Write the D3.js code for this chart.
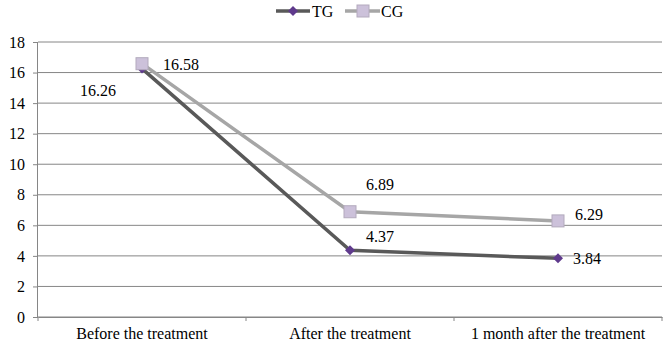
<!DOCTYPE html>
<html><head><meta charset="utf-8">
<script src="https://cdn.jsdelivr.net/npm/d3@7"></script>
<style>body{margin:0;background:#fff}svg{display:block}
svg text{font-family:"Liberation Serif","Times New Roman","DejaVu Serif",serif;font-size:16px;fill:#000}</style>
</head><body>
<svg id="c" width="667" height="355"></svg>
<script>
const categories = ["Before the treatment","After the treatment","1 month after the treatment"];
const seriesNames = ["TG","CG"];
const tgValues = [16.26, 4.37, 3.84];
const cgValues = [16.58, 6.89, 6.29];
const yTicks = [0,2,4,6,8,10,12,14,16,18];

const svg = d3.select("#c");
const mLeft = 38, mRight = 662, mTop = 42, mBottom = 317;
const x = d3.scaleBand().domain(categories).range([mLeft, mRight]);
const y = d3.scaleLinear().domain([0,18]).range([mBottom, mTop]);
const gridColor = "#868686";

// gridlines
svg.append("g").selectAll("line").data(yTicks).join("line")
  .attr("x1", mLeft).attr("x2", mRight)
  .attr("y1", d => y(d)).attr("y2", d => y(d))
  .attr("stroke", gridColor).attr("stroke-width", 1);

// y axis
const ya = svg.append("g").attr("transform", `translate(${mLeft},0)`)
  .call(d3.axisLeft(y).tickValues(yTicks).tickSize(5).tickPadding(8));
ya.attr("font-family", null).attr("font-size", null);
ya.select(".domain").attr("stroke", gridColor).attr("d", `M-0.5,${mTop}V${mBottom}`);
ya.selectAll(".tick line").attr("stroke", gridColor);

// x axis
const xa = svg.append("g").attr("transform", `translate(0,${mBottom})`)
  .call(d3.axisBottom(x).tickSize(0).tickPadding(11));
xa.attr("font-family", null).attr("font-size", null);
xa.select(".domain").attr("stroke", gridColor);
// band boundary ticks
const bounds = [mLeft].concat(categories.map(c => x(c) + x.bandwidth()));
svg.append("g").selectAll("line").data(bounds).join("line")
  .attr("x1", d => d).attr("x2", d => d)
  .attr("y1", mBottom).attr("y2", mBottom + 4)
  .attr("stroke", gridColor);

const cx = c => x(c) + x.bandwidth()/2;
const line = d3.line().x((d,i) => cx(categories[i])).y(d => y(d));

// CG
svg.append("path").datum(cgValues).attr("d", line)
  .attr("fill","none").attr("stroke","#a6a6a6").attr("stroke-width",3.5);
// TG
svg.append("path").datum(tgValues).attr("d", line)
  .attr("fill","none").attr("stroke","#595959").attr("stroke-width",3.5);

svg.append("g").selectAll("path").data(tgValues).join("path")
  .attr("d", d3.symbol().type(d3.symbolSquare).size(50))
  .attr("transform", (d,i) => `translate(${cx(categories[i])},${y(d)}) rotate(45)`)
  .attr("fill","#5f3a8c");
svg.append("g").selectAll("rect").data(cgValues).join("rect")
  .attr("x", (d,i) => cx(categories[i]) - 6).attr("y", d => y(d) - 6)
  .attr("width", 12).attr("height", 12)
  .attr("fill","#ccc1da").attr("stroke","#b3aabd").attr("stroke-width",1);

// labels
const tgOff = [[-62, 27],[16, -8],[15, 6]];
const cgOff = [[21, 6],[16, -22],[17, -1]];
svg.append("g").selectAll("text").data(tgValues).join("text")
  .attr("x", (d,i) => cx(categories[i]) + tgOff[i][0])
  .attr("y", (d,i) => y(d) + tgOff[i][1])
  .text(d => d.toFixed(2));
svg.append("g").selectAll("text").data(cgValues).join("text")
  .attr("x", (d,i) => cx(categories[i]) + cgOff[i][0])
  .attr("y", (d,i) => y(d) + cgOff[i][1])
  .text(d => d.toFixed(2));

// legend
const lg = svg.append("g");
lg.append("line").attr("x1",276).attr("x2",310).attr("y1",11).attr("y2",11).attr("stroke","#595959").attr("stroke-width",3.5);
lg.append("path").attr("d", d3.symbol().type(d3.symbolSquare).size(50)).attr("transform","translate(293,11) rotate(45)").attr("fill","#5f3a8c");
lg.append("text").attr("x",312).attr("y",17).text(seriesNames[0]);
lg.append("line").attr("x1",345).attr("x2",380).attr("y1",11).attr("y2",11).attr("stroke","#a6a6a6").attr("stroke-width",3.5);
lg.append("rect").attr("x",357).attr("y",5).attr("width",12).attr("height",12).attr("fill","#ccc1da").attr("stroke","#b3aabd");
lg.append("text").attr("x",381).attr("y",17).text(seriesNames[1]);
</script>
</body></html>
